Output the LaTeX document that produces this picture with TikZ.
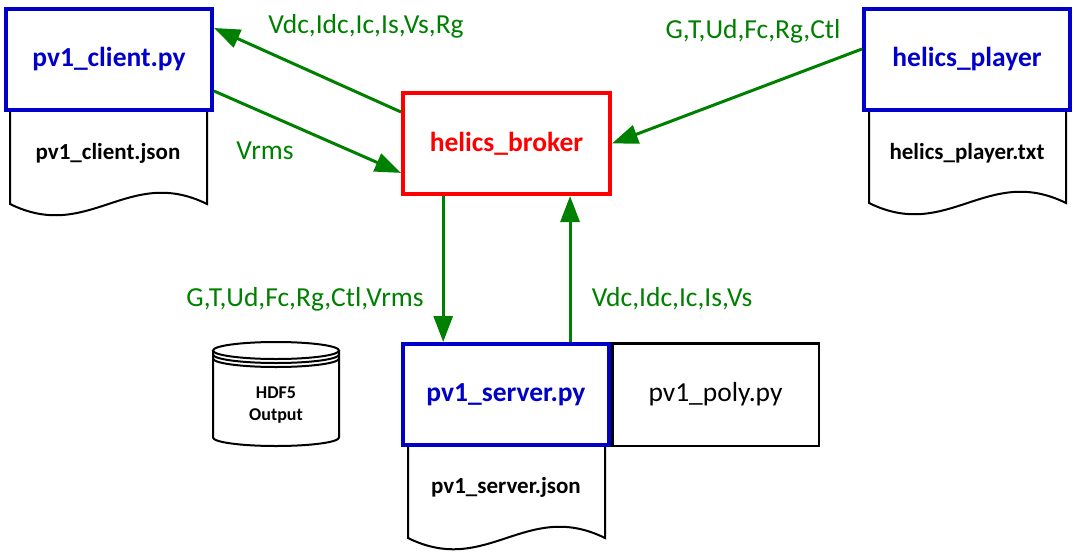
\documentclass[tikz,border=0pt]{standalone}
\usepackage{fontspec}
\setmainfont{Carlito}
\usetikzlibrary{arrows.meta,positioning,calc}
\definecolor{fedblue}{RGB}{0,0,200}
\definecolor{busgreen}{RGB}{0,128,0}
\tikzstyle{federate} = [draw=fedblue, line width=4pt, rectangle, minimum width=206pt, minimum height=101pt, fill=white, text=fedblue, font=\fontsize{27.5}{30}\selectfont\bfseries]
\tikzstyle{broker} = [federate, draw=red, text=red, minimum width=207pt]
\tikzstyle{module} = [draw, line width=2.5pt, rectangle, minimum width=206.5pt, minimum height=102.5pt, fill=white, font=\fontsize{27.5}{30}\selectfont]
\tikzstyle{docname} = [anchor=base, font=\fontsize{23}{26}\selectfont\bfseries]
\tikzstyle{signal} = [anchor=base, text=busgreen, font=\fontsize{27.5}{30}\selectfont]
\tikzstyle{bus} = [draw=busgreen, line width=3pt, -{Triangle[length=26pt,width=19pt]}]
\tikzstyle{sheet} = [draw, line width=2pt, fill=white]
\newcommand{\docpage}[4]{\draw[sheet] (#1,#3) -- (#1,#4) .. controls ({#1+0.4*(#2-#1)},{#4+39}) and ({#1+0.6*(#2-#1)},{#4-39}) .. (#2,#4) -- (#2,#3);}

\begin{document}
\begin{tikzpicture}[x=1pt, y=-1pt, auto, >=stealth]
	\useasboundingbox (0,0) rectangle (1076,554);
	% file sheets under the federates
	\docpage{10}{207}{100}{204}
	\docpage{869}{1066}{100}{203}
	\docpage{408}{605}{435}{538}

	\node [federate] (client) at (109,59.5) {pv1\_client.py};
	\node [broker] (broker) at (506.5,143.5) {helics\_broker};
	\node [federate] (player) at (967,59.5) {helics\_player};
	\node [federate] (server) at (506,394.5) {pv1\_server.py};
	\node [module, right=0pt of server] (poly) {pv1\_poly.py};

	\node [docname] (clientjson) at (108,159) {pv1\_client.json};
	\node [docname] (playertxt) at (967,159) {helics\_player.txt};
	\node [docname] (serverjson) at (506,493) {pv1\_server.json};

	% hdf5 store
	\draw [sheet] (213,350.5) -- (213,437.5) arc [start angle=180, end angle=360, x radius=63pt, y radius=8.5pt] -- (339,350.5);
	\draw [sheet] (276,350.5) ellipse [x radius=63pt, y radius=8.5pt];
	\draw [line width=2pt] (213,354.5) arc [start angle=180, end angle=360, x radius=63pt, y radius=8.5pt];
	\draw [line width=2pt] (213,358.5) arc [start angle=180, end angle=360, x radius=63pt, y radius=8.5pt];
	\node [align=center, font=\fontsize{18}{22}\selectfont\bfseries] (hdf) at (276,405) {HDF5\\Output};

	\coordinate (bdown) at ($(broker.south west)!0.2!(broker.south east)$);
	\coordinate (sup) at ($(server.north west)!0.805!(server.north east)$);

	\draw [bus] ($(broker.north west)!0.2!(broker.south west)$) -- ($(client.north east)!0.2!(client.south east)$);
	\draw [bus] ($(client.north east)!0.8!(client.south east)$) -- ($(broker.north west)!0.78!(broker.south west)$);
	\draw [bus] ($(player.north west)!0.4!(player.south west)$) -- (broker.east);
	\draw [bus] (bdown) -- (bdown |- server.north);
	\draw [bus] (sup) -- (sup |- broker.south);

	\node [signal] (toclient) at (366,33) {Vdc,Idc,Ic,Is,Vs,Rg};
	\node [signal] (fromclient) at (265,159) {Vrms};
	\node [signal] (fromplayer) at (753,38) {G,T,Ud,Fc,Rg,Ctl};
	\node [signal] (toserver) at (305,306) {G,T,Ud,Fc,Rg,Ctl,Vrms};
	\node [signal] (fromserver) at (672,306) {Vdc,Idc,Ic,Is,Vs};
\end{tikzpicture}
\end{document}
